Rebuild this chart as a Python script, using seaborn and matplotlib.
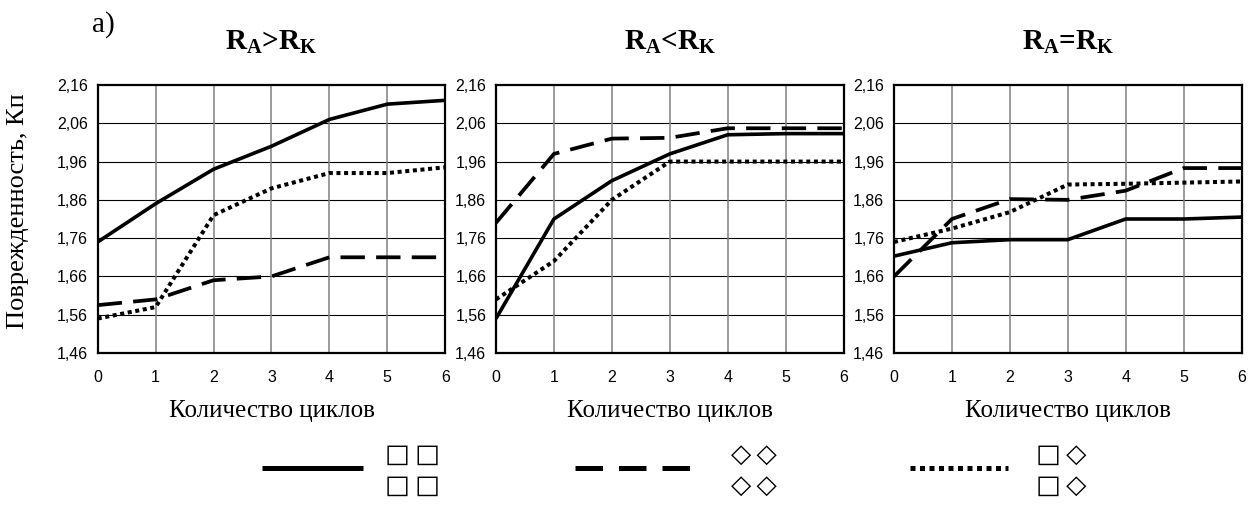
import numpy as np
import pandas as pd
import matplotlib
matplotlib.use("Agg")
import matplotlib.pyplot as plt
from matplotlib.lines import Line2D
import seaborn as sns

# ---------------- data ----------------
cycles = [0, 1, 2, 3, 4, 5, 6]

# panel 1: R_A > R_K
p1_solid = [1.75, 1.85, 1.94, 2.00, 2.07, 2.11, 2.12]
p1_dash = [1.585, 1.60, 1.65, 1.66, 1.71, 1.71, 1.71]
p1_dot = [1.55, 1.58, 1.82, 1.89, 1.93, 1.93, 1.945]

# panel 2: R_A < R_K
p2_solid = [1.55, 1.81, 1.91, 1.98, 2.03, 2.033, 2.033]
p2_dash = [1.80, 1.98, 2.02, 2.022, 2.047, 2.047, 2.047]
p2_dot = [1.60, 1.70, 1.86, 1.96, 1.96, 1.96, 1.96]

# panel 3: R_A = R_K
p3_solid = [1.713, 1.748, 1.756, 1.756, 1.81, 1.81, 1.815]
p3_dash = [1.66, 1.81, 1.862, 1.86, 1.884, 1.943, 1.943]
p3_dot = [1.75, 1.785, 1.828, 1.90, 1.902, 1.905, 1.908]

ytick_vals = [1.46, 1.56, 1.66, 1.76, 1.86, 1.96, 2.06, 2.16]
ytick_labels = ["1,46", "1,56", "1,66", "1,76", "1,86", "1,96", "2,06", "2,16"]
xlabel = "Количество циклов"
ylabel = "Поврежденность, Кп"
legend_symbols = ["□\u2009□\n□\u2009□", "◇\u2009◇\n◇\u2009◇", "□\u2009◇\n□\u2009◇"]
title_texts = [
    r"$\mathbf{R}_\mathbf{A}$>$\mathbf{R}_\mathbf{K}$",
    r"$\mathbf{R}_\mathbf{A}$<$\mathbf{R}_\mathbf{K}$",
    r"$\mathbf{R}_\mathbf{A}$=$\mathbf{R}_\mathbf{K}$",
]

panels = [
    (p1_solid, p1_dash, p1_dot),
    (p2_solid, p2_dash, p2_dot),
    (p3_solid, p3_dash, p3_dot),
]

# ---------------- style ----------------
sns.set_theme(style="white")
plt.rcParams["font.family"] = ["Liberation Serif", "DejaVu Serif"]
plt.rcParams["mathtext.fontset"] = "custom"
plt.rcParams["mathtext.rm"] = "Liberation Serif"
plt.rcParams["mathtext.bf"] = "Liberation Serif:bold"

W, H = 1255, 509
fig = plt.figure(figsize=(W / 100, H / 100), dpi=100)

lefts = [97.7, 496, 894]
width_px = 347.5
top_px, bot_px = 85, 353

tick_font = ["Liberation Sans Narrow", "Liberation Sans", "DejaVu Sans"]

styles = [
    dict(linestyle="-", lw=2.6),
    dict(linestyle=(0, (6.5, 3)), lw=2.7),
    dict(linestyle=(0, (1, 0.9)), lw=2.9),
]
legend_styles = [
    dict(linestyle="-", lw=3.6),
    dict(linestyle=(0, (5.5, 3.2)), lw=3.6),
    dict(linestyle=(0, (1, 0.9)), lw=3.6),
]

for i, series in enumerate(panels):
    ax = fig.add_axes([lefts[i] / W, 1 - bot_px / H, width_px / W, (bot_px - top_px) / H])
    for vals, st in zip(series, styles):
        df = pd.DataFrame({"x": cycles, "y": vals})
        sns.lineplot(data=df, x="x", y="y", ax=ax, color="black",
                     linestyle=st["linestyle"], lw=st["lw"],
                     dash_capstyle="butt", solid_capstyle="butt", zorder=5)
    ax.set_xlim(0, 6)
    ax.set_ylim(1.46, 2.16)
    ax.set_xticks(cycles)
    ax.set_xticklabels([str(c) for c in cycles])
    ax.set_yticks(ytick_vals)
    ax.set_yticklabels(ytick_labels)
    for lab in ax.get_xticklabels() + ax.get_yticklabels():
        lab.set_fontfamily(tick_font)
        lab.set_fontsize(11.5)
        lab.set_color("black")
    ax.tick_params(axis="x", length=0, pad=12)
    ax.tick_params(axis="y", length=0, pad=7)
    for yv in ytick_vals[1:-1]:
        ax.axhline(yv, color="black", lw=0.8, zorder=1)
    for xv in cycles[1:-1]:
        ax.axvline(xv, color="#808080", lw=1.1, zorder=1)
    for sp in ax.spines.values():
        sp.set_color("black")
        sp.set_linewidth(1.6)
        sp.set_visible(True)
    ax.set_xlabel(xlabel, fontsize=18, labelpad=11, color="black")
    if i == 0:
        ax.set_ylabel(ylabel, fontsize=19, color="black")
        ax.yaxis.set_label_coords(-0.198, 0.53)
    else:
        ax.set_ylabel("")
    ax.text(0.5, 1 + (85 - 49) / 268, title_texts[i], transform=ax.transAxes,
            ha="center", va="baseline", fontsize=21, fontweight="bold", color="black")

fig.text(92 / W, 1 - 25 / H, "а)", ha="left", va="center", fontsize=21, color="black")

# ---------------- legend ----------------
leg_lines = [(262, 363), (575, 692), (910, 1008)]
leg_sym_x = [385, 731, 1036]
leg_y = 468
for (x0, x1), st, sx, sym in zip(leg_lines, legend_styles, leg_sym_x, legend_symbols):
    ln = Line2D([x0 / W, x1 / W], [1 - leg_y / H, 1 - leg_y / H],
                transform=fig.transFigure, color="black",
                lw=st["lw"], linestyle=st["linestyle"],
                dash_capstyle="butt", solid_capstyle="butt")
    fig.add_artist(ln)
    fig.text(sx / W, 1 - 470 / H, sym, ha="left", va="center", fontsize=19,
             family=["DejaVu Sans"], linespacing=1.25, color="black")

fig.savefig("out.png", dpi=100)
